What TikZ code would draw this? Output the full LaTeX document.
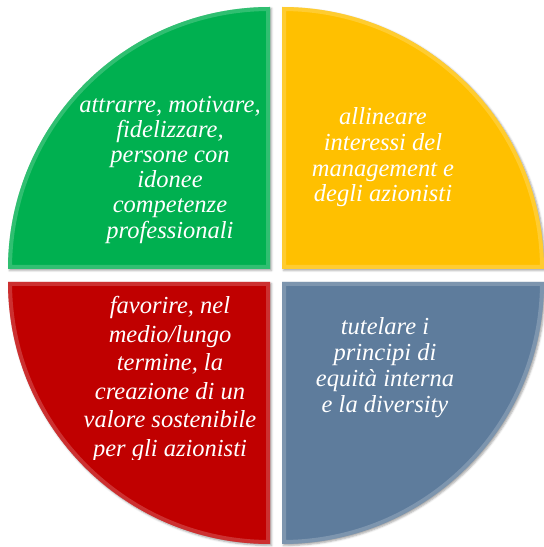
\documentclass[tikz,border=0pt]{standalone}
\usepackage{fontspec}
\setmainfont{Liberation Serif}
\usepackage{xcolor}
\usepackage{tikz}
\usetikzlibrary{shadows.blur}

\definecolor{qgreen}{RGB}{0,176,80}
\definecolor{qyellow}{RGB}{255,192,0}
\definecolor{qred}{RGB}{192,0,0}
\definecolor{qblue}{RGB}{94,124,156}

\begin{document}
\begin{tikzpicture}[x=1pt,y=1pt,
  quadshadow/.style={blur shadow={shadow xshift=1.5pt,shadow yshift=-1.5pt,shadow blur radius=2pt,shadow opacity=35}},
  bevel/.style={line width=8pt,opacity=0.35},
  label/.style={text=white,align=center,font=\itshape\fontsize{24.5}{#1}\selectfont}]
\useasboundingbox (0,0) rectangle (544,547);
% Quadrants
\foreach \col/\cx/\cy/\a in {qgreen/270/278/90, qyellow/282/278/0, qred/270/265/180, qblue/282/265/270}{
  \fill[\col,quadshadow] (\cx,\cy) -- ++({\a+90}:262) arc[start angle=\a+90,end angle=\a,radius=262] -- cycle;
  \begin{scope}
    \clip (\cx,\cy) -- ++({\a+90}:262) arc[start angle=\a+90,end angle=\a,radius=262] -- cycle;
    \draw[bevel,\col!45!white] (\cx,\cy) -- ++({\a+90}:262) arc[start angle=\a+90,end angle=\a,radius=262] -- cycle;
  \end{scope}
}
% Labels
\node[label=25.2] (attract) at (170,377.5) {attrarre, motivare,\\fidelizzare,\\persone con\\idonee\\competenze\\professionali};
\node[label=25.7] (align) at (383,389.5) {allineare\\interessi del\\management e\\degli azionisti};
\begin{scope}
  \clip (0,87) rectangle (544,547);
  \node[label=28.6] (value) at (170,168) {favorire, nel\\medio/lungo\\termine, la\\creazione di un\\valore sostenibile\\per gli azionisti};
\end{scope}
\node[label=26] (equity) at (385,179) {tutelare i\\principi di\\equità interna\\e la diversity};
\end{tikzpicture}
\end{document}
